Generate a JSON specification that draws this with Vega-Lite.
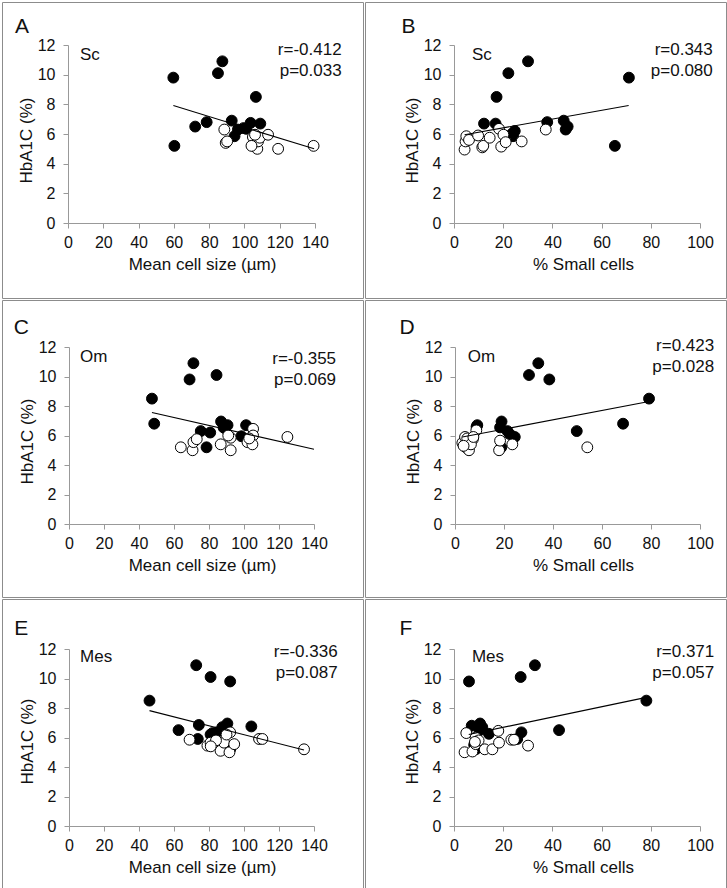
{
  "$schema": "https://vega.github.io/schema/vega-lite/v6.json",
  "background": "white",
  "padding": {"left": 1, "top": 1, "right": 4, "bottom": 1},
  "config": {
    "font": "Liberation Sans",
    "view": {"stroke": "#8c8c8c", "strokeWidth": 1},
    "concat": {"spacing": 0},
    "axis": {
      "grid": false,
      "domainColor": "#999999",
      "tickColor": "#999999",
      "tickSize": 5,
      "labelFont": "Liberation Sans",
      "labelFontSize": 16,
      "labelColor": "#111111",
      "labelFlush": false,
      "titleFont": "Liberation Sans",
      "titleFontSize": 17,
      "titleFontWeight": "normal",
      "titleColor": "#111111"
    },
    "text": {"font": "Liberation Sans", "color": "#111111"}
  },
  "datasets": {
    "A": [
      {"meanCellSize": 59.7, "hba1c": 9.8, "group": "T2D"},
      {"meanCellSize": 60.3, "hba1c": 5.2, "group": "T2D"},
      {"meanCellSize": 85.0, "hba1c": 10.1, "group": "T2D"},
      {"meanCellSize": 87.5, "hba1c": 10.9, "group": "T2D"},
      {"meanCellSize": 106.5, "hba1c": 8.5, "group": "T2D"},
      {"meanCellSize": 72.1, "hba1c": 6.5, "group": "T2D"},
      {"meanCellSize": 78.6, "hba1c": 6.8, "group": "T2D"},
      {"meanCellSize": 92.8, "hba1c": 6.9, "group": "T2D"},
      {"meanCellSize": 94.4, "hba1c": 5.85, "group": "T2D"},
      {"meanCellSize": 96.3, "hba1c": 6.3, "group": "T2D"},
      {"meanCellSize": 99.5, "hba1c": 6.4, "group": "T2D"},
      {"meanCellSize": 103.5, "hba1c": 6.75, "group": "T2D"},
      {"meanCellSize": 109.0, "hba1c": 6.7, "group": "T2D"},
      {"meanCellSize": 101.0, "hba1c": 6.35, "group": "T2D"},
      {"meanCellSize": 88.6, "hba1c": 6.3, "group": "NGT"},
      {"meanCellSize": 89.4, "hba1c": 5.4, "group": "NGT"},
      {"meanCellSize": 90.2, "hba1c": 5.5, "group": "NGT"},
      {"meanCellSize": 104.8, "hba1c": 5.8, "group": "NGT"},
      {"meanCellSize": 105.2, "hba1c": 5.2, "group": "NGT"},
      {"meanCellSize": 107.3, "hba1c": 5.0, "group": "NGT"},
      {"meanCellSize": 107.7, "hba1c": 5.5, "group": "NGT"},
      {"meanCellSize": 108.7, "hba1c": 5.75, "group": "NGT"},
      {"meanCellSize": 106.0, "hba1c": 5.95, "group": "NGT"},
      {"meanCellSize": 113.4, "hba1c": 5.95, "group": "NGT"},
      {"meanCellSize": 119.1, "hba1c": 5.0, "group": "NGT"},
      {"meanCellSize": 139.2, "hba1c": 5.2, "group": "NGT"},
      {"meanCellSize": 104.0, "hba1c": 5.2, "group": "NGT"}
    ],
    "B": [
      {"pctSmall": 71.1, "hba1c": 9.8, "group": "T2D"},
      {"pctSmall": 65.4, "hba1c": 5.2, "group": "T2D"},
      {"pctSmall": 30.1, "hba1c": 10.9, "group": "T2D"},
      {"pctSmall": 22.1, "hba1c": 10.1, "group": "T2D"},
      {"pctSmall": 17.3, "hba1c": 8.5, "group": "T2D"},
      {"pctSmall": 12.2, "hba1c": 6.7, "group": "T2D"},
      {"pctSmall": 16.9, "hba1c": 6.7, "group": "T2D"},
      {"pctSmall": 24.7, "hba1c": 6.2, "group": "T2D"},
      {"pctSmall": 24.0, "hba1c": 5.85, "group": "T2D"},
      {"pctSmall": 37.9, "hba1c": 6.8, "group": "T2D"},
      {"pctSmall": 44.6, "hba1c": 6.9, "group": "T2D"},
      {"pctSmall": 45.4, "hba1c": 6.3, "group": "T2D"},
      {"pctSmall": 46.2, "hba1c": 6.5, "group": "T2D"},
      {"pctSmall": 23.5, "hba1c": 6.0, "group": "T2D"},
      {"pctSmall": 4.3, "hba1c": 4.95, "group": "NGT"},
      {"pctSmall": 4.7, "hba1c": 5.5, "group": "NGT"},
      {"pctSmall": 5.0, "hba1c": 5.85, "group": "NGT"},
      {"pctSmall": 6.1, "hba1c": 5.6, "group": "NGT"},
      {"pctSmall": 9.8, "hba1c": 5.9, "group": "NGT"},
      {"pctSmall": 11.5, "hba1c": 5.1, "group": "NGT"},
      {"pctSmall": 11.9, "hba1c": 5.2, "group": "NGT"},
      {"pctSmall": 14.5, "hba1c": 5.75, "group": "NGT"},
      {"pctSmall": 18.3, "hba1c": 6.35, "group": "NGT"},
      {"pctSmall": 19.2, "hba1c": 5.15, "group": "NGT"},
      {"pctSmall": 20.1, "hba1c": 5.95, "group": "NGT"},
      {"pctSmall": 21.0, "hba1c": 5.45, "group": "NGT"},
      {"pctSmall": 27.5, "hba1c": 5.5, "group": "NGT"},
      {"pctSmall": 37.3, "hba1c": 6.3, "group": "NGT"}
    ],
    "C": [
      {"meanCellSize": 47.4, "hba1c": 8.5, "group": "T2D"},
      {"meanCellSize": 48.7, "hba1c": 6.8, "group": "T2D"},
      {"meanCellSize": 68.9, "hba1c": 9.8, "group": "T2D"},
      {"meanCellSize": 71.1, "hba1c": 10.9, "group": "T2D"},
      {"meanCellSize": 84.3, "hba1c": 10.1, "group": "T2D"},
      {"meanCellSize": 75.3, "hba1c": 6.3, "group": "T2D"},
      {"meanCellSize": 80.7, "hba1c": 6.2, "group": "T2D"},
      {"meanCellSize": 78.6, "hba1c": 5.2, "group": "T2D"},
      {"meanCellSize": 86.9, "hba1c": 6.95, "group": "T2D"},
      {"meanCellSize": 88.3, "hba1c": 6.55, "group": "T2D"},
      {"meanCellSize": 90.6, "hba1c": 6.7, "group": "T2D"},
      {"meanCellSize": 98.5, "hba1c": 5.95, "group": "T2D"},
      {"meanCellSize": 101.2, "hba1c": 6.7, "group": "T2D"},
      {"meanCellSize": 89.0, "hba1c": 6.5, "group": "T2D"},
      {"meanCellSize": 63.9, "hba1c": 5.2, "group": "NGT"},
      {"meanCellSize": 70.6, "hba1c": 5.0, "group": "NGT"},
      {"meanCellSize": 71.1, "hba1c": 5.55, "group": "NGT"},
      {"meanCellSize": 73.0, "hba1c": 5.75, "group": "NGT"},
      {"meanCellSize": 86.7, "hba1c": 5.4, "group": "NGT"},
      {"meanCellSize": 92.4, "hba1c": 5.0, "group": "NGT"},
      {"meanCellSize": 92.4, "hba1c": 5.85, "group": "NGT"},
      {"meanCellSize": 102.0, "hba1c": 5.55, "group": "NGT"},
      {"meanCellSize": 105.2, "hba1c": 6.45, "group": "NGT"},
      {"meanCellSize": 105.2, "hba1c": 6.0, "group": "NGT"},
      {"meanCellSize": 104.8, "hba1c": 5.4, "group": "NGT"},
      {"meanCellSize": 124.8, "hba1c": 5.9, "group": "NGT"},
      {"meanCellSize": 91.0, "hba1c": 6.0, "group": "NGT"},
      {"meanCellSize": 103.0, "hba1c": 5.8, "group": "NGT"}
    ],
    "D": [
      {"pctSmall": 30.2, "hba1c": 10.1, "group": "T2D"},
      {"pctSmall": 34.0, "hba1c": 10.9, "group": "T2D"},
      {"pctSmall": 38.5, "hba1c": 9.8, "group": "T2D"},
      {"pctSmall": 79.2, "hba1c": 8.5, "group": "T2D"},
      {"pctSmall": 68.6, "hba1c": 6.8, "group": "T2D"},
      {"pctSmall": 49.7, "hba1c": 6.3, "group": "T2D"},
      {"pctSmall": 9.1, "hba1c": 6.7, "group": "T2D"},
      {"pctSmall": 19.0, "hba1c": 6.95, "group": "T2D"},
      {"pctSmall": 18.4, "hba1c": 6.55, "group": "T2D"},
      {"pctSmall": 21.4, "hba1c": 6.3, "group": "T2D"},
      {"pctSmall": 22.3, "hba1c": 6.1, "group": "T2D"},
      {"pctSmall": 24.4, "hba1c": 5.9, "group": "T2D"},
      {"pctSmall": 18.9, "hba1c": 5.2, "group": "T2D"},
      {"pctSmall": 8.8, "hba1c": 6.6, "group": "T2D"},
      {"pctSmall": 3.0, "hba1c": 5.5, "group": "NGT"},
      {"pctSmall": 4.1, "hba1c": 5.9, "group": "NGT"},
      {"pctSmall": 4.4, "hba1c": 5.2, "group": "NGT"},
      {"pctSmall": 5.7, "hba1c": 5.0, "group": "NGT"},
      {"pctSmall": 7.3, "hba1c": 5.75, "group": "NGT"},
      {"pctSmall": 8.7, "hba1c": 6.35, "group": "NGT"},
      {"pctSmall": 5.0, "hba1c": 5.8, "group": "NGT"},
      {"pctSmall": 6.5, "hba1c": 5.4, "group": "NGT"},
      {"pctSmall": 18.0, "hba1c": 5.0, "group": "NGT"},
      {"pctSmall": 18.4, "hba1c": 5.65, "group": "NGT"},
      {"pctSmall": 23.4, "hba1c": 5.4, "group": "NGT"},
      {"pctSmall": 54.0, "hba1c": 5.2, "group": "NGT"},
      {"pctSmall": 3.5, "hba1c": 5.3, "group": "NGT"},
      {"pctSmall": 7.5, "hba1c": 5.9, "group": "NGT"}
    ],
    "E": [
      {"meanCellSize": 46.0, "hba1c": 8.5, "group": "T2D"},
      {"meanCellSize": 72.7, "hba1c": 10.9, "group": "T2D"},
      {"meanCellSize": 80.9, "hba1c": 10.1, "group": "T2D"},
      {"meanCellSize": 92.1, "hba1c": 9.8, "group": "T2D"},
      {"meanCellSize": 62.6, "hba1c": 6.5, "group": "T2D"},
      {"meanCellSize": 74.2, "hba1c": 6.85, "group": "T2D"},
      {"meanCellSize": 73.6, "hba1c": 5.9, "group": "T2D"},
      {"meanCellSize": 80.9, "hba1c": 6.2, "group": "T2D"},
      {"meanCellSize": 84.4, "hba1c": 6.35, "group": "T2D"},
      {"meanCellSize": 87.6, "hba1c": 6.7, "group": "T2D"},
      {"meanCellSize": 90.5, "hba1c": 6.95, "group": "T2D"},
      {"meanCellSize": 104.2, "hba1c": 6.75, "group": "T2D"},
      {"meanCellSize": 92.1, "hba1c": 5.2, "group": "T2D"},
      {"meanCellSize": 82.0, "hba1c": 6.3, "group": "T2D"},
      {"meanCellSize": 68.9, "hba1c": 5.85, "group": "NGT"},
      {"meanCellSize": 79.1, "hba1c": 5.45, "group": "NGT"},
      {"meanCellSize": 80.9, "hba1c": 5.65, "group": "NGT"},
      {"meanCellSize": 86.6, "hba1c": 5.1, "group": "NGT"},
      {"meanCellSize": 88.6, "hba1c": 5.65, "group": "NGT"},
      {"meanCellSize": 91.7, "hba1c": 5.0, "group": "NGT"},
      {"meanCellSize": 94.4, "hba1c": 5.55, "group": "NGT"},
      {"meanCellSize": 92.1, "hba1c": 6.35, "group": "NGT"},
      {"meanCellSize": 108.6, "hba1c": 5.9, "group": "NGT"},
      {"meanCellSize": 110.5, "hba1c": 5.9, "group": "NGT"},
      {"meanCellSize": 134.3, "hba1c": 5.2, "group": "NGT"},
      {"meanCellSize": 90.0, "hba1c": 6.2, "group": "NGT"},
      {"meanCellSize": 84.0, "hba1c": 5.8, "group": "NGT"},
      {"meanCellSize": 81.0, "hba1c": 5.4, "group": "NGT"}
    ],
    "F": [
      {"pctSmall": 6.1, "hba1c": 9.8, "group": "T2D"},
      {"pctSmall": 27.1, "hba1c": 10.1, "group": "T2D"},
      {"pctSmall": 32.9, "hba1c": 10.9, "group": "T2D"},
      {"pctSmall": 78.2, "hba1c": 8.5, "group": "T2D"},
      {"pctSmall": 42.7, "hba1c": 6.5, "group": "T2D"},
      {"pctSmall": 7.2, "hba1c": 6.8, "group": "T2D"},
      {"pctSmall": 10.6, "hba1c": 6.95, "group": "T2D"},
      {"pctSmall": 11.5, "hba1c": 6.7, "group": "T2D"},
      {"pctSmall": 14.2, "hba1c": 6.25, "group": "T2D"},
      {"pctSmall": 8.8, "hba1c": 5.2, "group": "T2D"},
      {"pctSmall": 27.4, "hba1c": 6.35, "group": "T2D"},
      {"pctSmall": 25.7, "hba1c": 5.9, "group": "T2D"},
      {"pctSmall": 8.2, "hba1c": 5.5, "group": "T2D"},
      {"pctSmall": 10.5, "hba1c": 6.5, "group": "T2D"},
      {"pctSmall": 4.3, "hba1c": 5.0, "group": "NGT"},
      {"pctSmall": 5.0, "hba1c": 6.3, "group": "NGT"},
      {"pctSmall": 7.5, "hba1c": 5.05, "group": "NGT"},
      {"pctSmall": 8.8, "hba1c": 6.0, "group": "NGT"},
      {"pctSmall": 8.8, "hba1c": 5.55, "group": "NGT"},
      {"pctSmall": 12.5, "hba1c": 5.2, "group": "NGT"},
      {"pctSmall": 15.6, "hba1c": 5.2, "group": "NGT"},
      {"pctSmall": 18.0, "hba1c": 6.45, "group": "NGT"},
      {"pctSmall": 18.3, "hba1c": 5.65, "group": "NGT"},
      {"pctSmall": 23.3, "hba1c": 5.85, "group": "NGT"},
      {"pctSmall": 24.4, "hba1c": 5.85, "group": "NGT"},
      {"pctSmall": 30.1, "hba1c": 5.45, "group": "NGT"},
      {"pctSmall": 10.0, "hba1c": 5.8, "group": "NGT"},
      {"pctSmall": 8.5, "hba1c": 5.7, "group": "NGT"}
    ],
    "lineA": [{"meanCellSize": 59.7, "hba1c": 7.92}, {"meanCellSize": 139.5, "hba1c": 5.0}],
    "lineB": [{"pctSmall": 4.3, "hba1c": 5.95}, {"pctSmall": 71.0, "hba1c": 7.92}],
    "lineC": [{"meanCellSize": 47.4, "hba1c": 7.56}, {"meanCellSize": 140.0, "hba1c": 5.07}],
    "lineD": [{"pctSmall": 3.0, "hba1c": 5.9}, {"pctSmall": 79.2, "hba1c": 8.3}],
    "lineE": [{"meanCellSize": 46.0, "hba1c": 7.82}, {"meanCellSize": 134.3, "hba1c": 5.15}],
    "lineF": [{"pctSmall": 6.0, "hba1c": 6.2}, {"pctSmall": 78.2, "hba1c": 8.72}]
  },
  "vconcat": [
    {
      "hconcat": [
        {
          "width": 361, "height": 296,
          "layer": [
            {
              "data": {"name": "A"},
              "mark": {"type": "point", "shape": "circle", "filled": true, "size": 118, "stroke": "#000000", "strokeWidth": 1, "opacity": 1},
              "encoding": {
                "x": {"field": "meanCellSize", "type": "quantitative", "scale": {"domain": [0, 140], "range": [66, 313], "nice": false, "zero": false},
                  "axis": {"values": [0, 20, 40, 60, 80, 100, 120, 140], "offset": -75, "title": "Mean cell size (µm)", "titleX": 200, "labelPadding": 6, "titlePadding": 6}},
                "y": {"field": "hba1c", "type": "quantitative", "scale": {"domain": [0, 12], "range": [221, 43], "nice": false, "zero": false},
                  "axis": {"values": [0, 2, 4, 6, 8, 10, 12], "offset": -66, "title": "HbA1C (%)", "titleY": 138, "labelPadding": 8, "titlePadding": 2}},
                "fill": {"field": "group", "type": "nominal", "scale": {"domain": ["T2D", "NGT"], "range": ["#000000", "#ffffff"]}, "legend": null}
              }
            },
            {"data": {"name": "lineA"}, "mark": {"type": "line", "color": "#000000", "strokeWidth": 1.1},
              "encoding": {"x": {"field": "meanCellSize", "type": "quantitative"}, "y": {"field": "hba1c", "type": "quantitative"}}},
            {"data": {"values": [{}]}, "mark": {"type": "text", "align": "left", "baseline": "alphabetic", "fontSize": 21},
              "encoding": {"x": {"datum": -30}, "y": {"datum": 12.81}, "text": {"value": "A"}}},
            {"data": {"values": [{}]}, "mark": {"type": "text", "align": "left", "baseline": "alphabetic", "fontSize": 17},
              "encoding": {"x": {"datum": 6.8}, "y": {"datum": 11.0}, "text": {"value": "Sc"}}},
            {"data": {"values": [{}]}, "mark": {"type": "text", "align": "right", "baseline": "alphabetic", "fontSize": 17, "lineBreak": "\n", "lineHeight": 21},
              "encoding": {"x": {"datum": 155.1}, "y": {"datum": 11.31}, "text": {"value": "r=-0.412\np=0.033"}}}
          ]
        },
        {
          "width": 361, "height": 296,
          "layer": [
            {
              "data": {"name": "B"},
              "mark": {"type": "point", "shape": "circle", "filled": true, "size": 118, "stroke": "#000000", "strokeWidth": 1, "opacity": 1},
              "encoding": {
                "x": {"field": "pctSmall", "type": "quantitative", "scale": {"domain": [0, 100], "range": [89, 335], "nice": false, "zero": false},
                  "axis": {"values": [0, 20, 40, 60, 80, 100], "offset": -75, "title": "% Small cells", "titleX": 218, "labelPadding": 6, "titlePadding": 6}},
                "y": {"field": "hba1c", "type": "quantitative", "scale": {"domain": [0, 12], "range": [221, 43], "nice": false, "zero": false},
                  "axis": {"values": [0, 2, 4, 6, 8, 10, 12], "offset": -89, "title": "HbA1C (%)", "titleY": 138, "labelPadding": 8, "titlePadding": 2}},
                "fill": {"field": "group", "type": "nominal", "scale": {"domain": ["T2D", "NGT"], "range": ["#000000", "#ffffff"]}, "legend": null}
              }
            },
            {"data": {"name": "lineB"}, "mark": {"type": "line", "color": "#000000", "strokeWidth": 1.1},
              "encoding": {"x": {"field": "pctSmall", "type": "quantitative"}, "y": {"field": "hba1c", "type": "quantitative"}}},
            {"data": {"values": [{}]}, "mark": {"type": "text", "align": "left", "baseline": "alphabetic", "fontSize": 21},
              "encoding": {"x": {"datum": -21.3}, "y": {"datum": 12.83}, "text": {"value": "B"}}},
            {"data": {"values": [{}]}, "mark": {"type": "text", "align": "left", "baseline": "alphabetic", "fontSize": 17},
              "encoding": {"x": {"datum": 7.3}, "y": {"datum": 11.0}, "text": {"value": "Sc"}}},
            {"data": {"values": [{}]}, "mark": {"type": "text", "align": "right", "baseline": "alphabetic", "fontSize": 17, "lineBreak": "\n", "lineHeight": 21},
              "encoding": {"x": {"datum": 105.2}, "y": {"datum": 11.31}, "text": {"value": "r=0.343\np=0.080"}}}
          ]
        }
      ]
    },
    {
      "hconcat": [
        {
          "width": 361, "height": 297,
          "layer": [
            {
              "data": {"name": "C"},
              "mark": {"type": "point", "shape": "circle", "filled": true, "size": 118, "stroke": "#000000", "strokeWidth": 1, "opacity": 1},
              "encoding": {
                "x": {"field": "meanCellSize", "type": "quantitative", "scale": {"domain": [0, 140], "range": [67, 312], "nice": false, "zero": false},
                  "axis": {"values": [0, 20, 40, 60, 80, 100, 120, 140], "offset": -73, "title": "Mean cell size (µm)", "titleX": 200, "labelPadding": 6, "titlePadding": 6}},
                "y": {"field": "hba1c", "type": "quantitative", "scale": {"domain": [0, 12], "range": [224, 47], "nice": false, "zero": false},
                  "axis": {"values": [0, 2, 4, 6, 8, 10, 12], "offset": -67, "title": "HbA1C (%)", "titleY": 141, "labelPadding": 8, "titlePadding": 2}},
                "fill": {"field": "group", "type": "nominal", "scale": {"domain": ["T2D", "NGT"], "range": ["#000000", "#ffffff"]}, "legend": null}
              }
            },
            {"data": {"name": "lineC"}, "mark": {"type": "line", "color": "#000000", "strokeWidth": 1.1},
              "encoding": {"x": {"field": "meanCellSize", "type": "quantitative"}, "y": {"field": "hba1c", "type": "quantitative"}}},
            {"data": {"values": [{}]}, "mark": {"type": "text", "align": "left", "baseline": "alphabetic", "fontSize": 21},
              "encoding": {"x": {"datum": -31.6}, "y": {"datum": 12.88}, "text": {"value": "C"}}},
            {"data": {"values": [{}]}, "mark": {"type": "text", "align": "left", "baseline": "alphabetic", "fontSize": 17},
              "encoding": {"x": {"datum": 6.3}, "y": {"datum": 10.96}, "text": {"value": "Om"}}},
            {"data": {"values": [{}]}, "mark": {"type": "text", "align": "right", "baseline": "alphabetic", "fontSize": 17, "lineBreak": "\n", "lineHeight": 21},
              "encoding": {"x": {"datum": 152.6}, "y": {"datum": 10.85}, "text": {"value": "r=-0.355\np=0.069"}}}
          ]
        },
        {
          "width": 361, "height": 297,
          "layer": [
            {
              "data": {"name": "D"},
              "mark": {"type": "point", "shape": "circle", "filled": true, "size": 118, "stroke": "#000000", "strokeWidth": 1, "opacity": 1},
              "encoding": {
                "x": {"field": "pctSmall", "type": "quantitative", "scale": {"domain": [0, 100], "range": [90, 335], "nice": false, "zero": false},
                  "axis": {"values": [0, 20, 40, 60, 80, 100], "offset": -73, "title": "% Small cells", "titleX": 218, "labelPadding": 6, "titlePadding": 6}},
                "y": {"field": "hba1c", "type": "quantitative", "scale": {"domain": [0, 12], "range": [224, 47], "nice": false, "zero": false},
                  "axis": {"values": [0, 2, 4, 6, 8, 10, 12], "offset": -90, "title": "HbA1C (%)", "titleY": 141, "labelPadding": 8, "titlePadding": 2}},
                "fill": {"field": "group", "type": "nominal", "scale": {"domain": ["T2D", "NGT"], "range": ["#000000", "#ffffff"]}, "legend": null}
              }
            },
            {"data": {"name": "lineD"}, "mark": {"type": "line", "color": "#000000", "strokeWidth": 1.1},
              "encoding": {"x": {"field": "pctSmall", "type": "quantitative"}, "y": {"field": "hba1c", "type": "quantitative"}}},
            {"data": {"values": [{}]}, "mark": {"type": "text", "align": "left", "baseline": "alphabetic", "fontSize": 21},
              "encoding": {"x": {"datum": -22.7}, "y": {"datum": 12.88}, "text": {"value": "D"}}},
            {"data": {"values": [{}]}, "mark": {"type": "text", "align": "left", "baseline": "alphabetic", "fontSize": 17},
              "encoding": {"x": {"datum": 5.2}, "y": {"datum": 10.96}, "text": {"value": "Om"}}},
            {"data": {"values": [{}]}, "mark": {"type": "text", "align": "right", "baseline": "alphabetic", "fontSize": 17, "lineBreak": "\n", "lineHeight": 21},
              "encoding": {"x": {"datum": 105.8}, "y": {"datum": 11.71}, "text": {"value": "r=0.423\np=0.028"}}}
          ]
        }
      ]
    },
    {
      "hconcat": [
        {
          "width": 361, "height": 293,
          "layer": [
            {
              "data": {"name": "E"},
              "mark": {"type": "point", "shape": "circle", "filled": true, "size": 118, "stroke": "#000000", "strokeWidth": 1, "opacity": 1},
              "encoding": {
                "x": {"field": "meanCellSize", "type": "quantitative", "scale": {"domain": [0, 140], "range": [67, 312], "nice": false, "zero": false},
                  "axis": {"values": [0, 20, 40, 60, 80, 100, 120, 140], "offset": -66, "title": "Mean cell size (µm)", "titleX": 200, "labelPadding": 6, "titlePadding": 6}},
                "y": {"field": "hba1c", "type": "quantitative", "scale": {"domain": [0, 12], "range": [227, 50], "nice": false, "zero": false},
                  "axis": {"values": [0, 2, 4, 6, 8, 10, 12], "offset": -67, "title": "HbA1C (%)", "titleY": 142, "labelPadding": 8, "titlePadding": 2}},
                "fill": {"field": "group", "type": "nominal", "scale": {"domain": ["T2D", "NGT"], "range": ["#000000", "#ffffff"]}, "legend": null}
              }
            },
            {"data": {"name": "lineE"}, "mark": {"type": "line", "color": "#000000", "strokeWidth": 1.1},
              "encoding": {"x": {"field": "meanCellSize", "type": "quantitative"}, "y": {"field": "hba1c", "type": "quantitative"}}},
            {"data": {"values": [{}]}, "mark": {"type": "text", "align": "left", "baseline": "alphabetic", "fontSize": 21},
              "encoding": {"x": {"datum": -31.3}, "y": {"datum": 12.93}, "text": {"value": "E"}}},
            {"data": {"values": [{}]}, "mark": {"type": "text", "align": "left", "baseline": "alphabetic", "fontSize": 17},
              "encoding": {"x": {"datum": 6.3}, "y": {"datum": 11.12}, "text": {"value": "Mes"}}},
            {"data": {"values": [{}]}, "mark": {"type": "text", "align": "right", "baseline": "alphabetic", "fontSize": 17, "lineBreak": "\n", "lineHeight": 21},
              "encoding": {"x": {"datum": 153.5}, "y": {"datum": 11.46}, "text": {"value": "r=-0.336\np=0.087"}}}
          ]
        },
        {
          "width": 361, "height": 293,
          "layer": [
            {
              "data": {"name": "F"},
              "mark": {"type": "point", "shape": "circle", "filled": true, "size": 118, "stroke": "#000000", "strokeWidth": 1, "opacity": 1},
              "encoding": {
                "x": {"field": "pctSmall", "type": "quantitative", "scale": {"domain": [0, 100], "range": [89, 335], "nice": false, "zero": false},
                  "axis": {"values": [0, 20, 40, 60, 80, 100], "offset": -66, "title": "% Small cells", "titleX": 218, "labelPadding": 6, "titlePadding": 6}},
                "y": {"field": "hba1c", "type": "quantitative", "scale": {"domain": [0, 12], "range": [227, 50], "nice": false, "zero": false},
                  "axis": {"values": [0, 2, 4, 6, 8, 10, 12], "offset": -89, "title": "HbA1C (%)", "titleY": 142, "labelPadding": 8, "titlePadding": 2}},
                "fill": {"field": "group", "type": "nominal", "scale": {"domain": ["T2D", "NGT"], "range": ["#000000", "#ffffff"]}, "legend": null}
              }
            },
            {"data": {"name": "lineF"}, "mark": {"type": "line", "color": "#000000", "strokeWidth": 1.1},
              "encoding": {"x": {"field": "pctSmall", "type": "quantitative"}, "y": {"field": "hba1c", "type": "quantitative"}}},
            {"data": {"values": [{}]}, "mark": {"type": "text", "align": "left", "baseline": "alphabetic", "fontSize": 21},
              "encoding": {"x": {"datum": -22.2}, "y": {"datum": 12.93}, "text": {"value": "F"}}},
            {"data": {"values": [{}]}, "mark": {"type": "text", "align": "left", "baseline": "alphabetic", "fontSize": 17},
              "encoding": {"x": {"datum": 7.3}, "y": {"datum": 11.12}, "text": {"value": "Mes"}}},
            {"data": {"values": [{}]}, "mark": {"type": "text", "align": "right", "baseline": "alphabetic", "fontSize": 17, "lineBreak": "\n", "lineHeight": 21},
              "encoding": {"x": {"datum": 105.8}, "y": {"datum": 11.46}, "text": {"value": "r=0.371\np=0.057"}}}
          ]
        }
      ]
    }
  ]
}
